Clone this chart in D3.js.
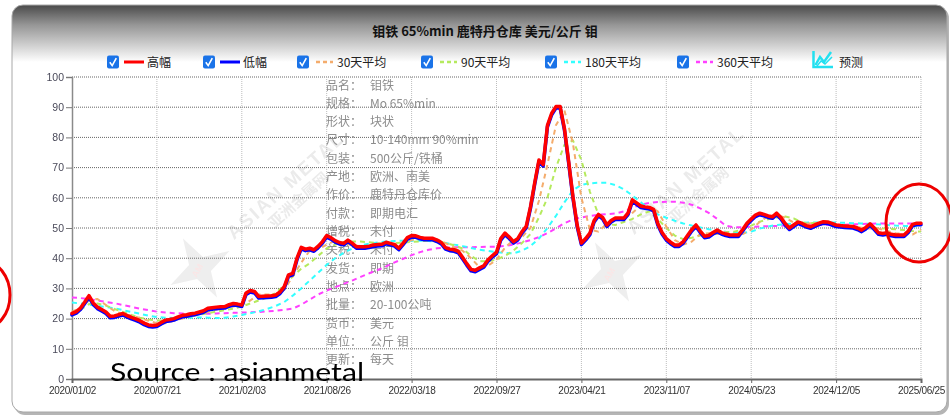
<!DOCTYPE html>
<html><head><meta charset="utf-8">
<script src="https://cdn.jsdelivr.net/npm/d3@7"></script>
<style>html,body{margin:0;padding:0;background:#fff;}svg{display:block;}</style>
</head><body>
<svg id="chart" width="950" height="417"></svg>
<script>
// ---- data ----
const titleText = "钼铁 65%min 鹿特丹仓库 美元/公斤 钼";
const tickLabels = ["2020/01/02","2020/07/21","2021/02/03","2021/08/26","2022/03/18","2022/09/27","2023/04/21","2023/11/07","2024/05/23","2024/12/05","2025/06/25"];
const yTicks = [0,10,20,30,40,50,60,70,80,90,100];
const legendNames = ["高幅","低幅","30天平均","90天平均","180天平均","360天平均"];
const forecastName = "预测";
const infoLabels = ["品名：","规格：","形状：","尺寸：","包装：","产地：","作价：","付款：","增税：","关税：","发货：","地点：","批量：","货币：","单位：","更新："];
const infoValues = ["钼铁","Mo 65%min","块状","10-140mm 90%min","500公斤/铁桶","欧洲、南美","鹿特丹仓库价","即期电汇","未付","未付","即期","欧洲","20-100公吨","美元","公斤 钼","每天"];
const sourceText = "Source : asianmetal";

// high (red) — evenly spaced samples across the whole period
const high = [
21.7,22.3,23.5,25.5,27.6,25.2,23.8,23.0,22.2,20.8,
20.9,21.3,21.7,21.0,20.4,19.9,19.3,18.5,17.9,17.7,
17.9,18.7,19.5,19.7,20.0,20.6,21.1,21.3,21.6,21.8,
22.2,22.6,23.4,23.6,23.8,23.9,24.0,24.6,25.0,24.8,
24.5,28.5,29.3,29.0,27.3,27.4,27.5,27.6,27.8,28.8,
30.6,34.5,35.0,40.0,43.6,43.0,43.3,42.8,44.0,45.5,
47.5,46.8,45.8,45.2,44.9,46.0,45.0,43.8,43.8,43.8,
44.0,44.4,44.5,44.6,45.3,44.9,44.5,43.3,45.0,46.8,
47.5,47.4,46.9,46.6,46.6,46.6,46.0,45.2,43.5,43.0,
42.8,42.3,40.3,38.2,36.3,36.0,36.8,37.5,39.5,40.8,
42.0,46.5,48.3,47.0,45.5,46.5,48.8,50.5,57.0,65.0,
72.5,71.0,84.0,88.0,90.2,90.2,83.0,72.0,60.5,51.0,
45.0,46.5,48.3,52.5,54.5,53.5,51.0,52.5,53.3,53.3,
53.3,55.0,59.3,58.3,57.3,57.0,56.8,56.2,51.5,48.5,
46.5,45.3,44.4,44.4,45.5,47.5,49.5,51.0,49.0,47.3,
47.5,48.5,49.3,48.5,48.0,47.7,47.7,47.7,49.5,51.6,
53.0,54.3,54.9,54.5,54.0,53.7,54.9,53.5,51.5,50.0,
51.0,52.0,51.5,50.8,50.4,51.0,51.6,52.1,52.0,51.5,
51.0,50.8,50.7,50.6,50.5,50.0,49.3,50.2,51.4,50.0,
48.4,48.2,48.4,47.9,47.7,47.7,47.7,49.0,51.2,51.6,
51.6];
// low (blue)
const low = [
21.2,21.8,23.0,25.0,27.0,24.7,23.3,22.5,21.7,20.3,
20.4,20.8,21.2,20.5,19.9,19.4,18.8,18.0,17.4,17.2,
17.4,18.2,19.0,19.2,19.5,20.1,20.6,20.8,21.1,21.3,
21.7,22.1,22.9,23.1,23.3,23.4,23.5,24.1,24.5,24.3,
24.0,28.0,28.8,28.5,26.8,26.9,27.0,27.1,27.3,28.3,
30.1,34.0,34.5,39.5,43.1,42.5,42.8,42.3,43.5,45.0,
47.0,46.3,45.3,44.7,44.4,45.5,44.5,43.3,43.3,43.3,
43.5,43.9,44.0,44.1,44.8,44.4,44.0,42.8,44.5,46.3,
47.0,46.9,46.4,46.1,46.1,46.1,45.5,44.7,43.0,42.5,
42.3,41.8,39.8,37.7,35.8,35.5,36.3,37.0,39.0,40.3,
41.5,46.0,47.8,46.5,45.0,46.0,48.3,50.0,56.5,64.5,
72.0,70.5,83.5,87.5,89.7,89.7,82.5,71.5,60.0,50.5,
44.5,46.0,47.8,52.0,54.0,53.0,50.5,52.0,52.8,52.8,
52.8,54.5,58.8,57.8,56.8,56.5,56.3,55.7,51.0,48.0,
46.0,44.8,43.9,43.9,45.0,47.0,49.0,50.5,48.5,46.8,
47.0,48.0,48.8,48.0,47.5,47.2,47.2,47.2,49.0,51.1,
52.5,53.8,54.4,54.0,53.5,53.2,54.4,53.0,51.0,49.5,
50.5,51.5,51.0,50.3,49.9,50.5,51.1,51.6,51.5,51.0,
50.5,50.3,50.2,50.1,50.0,49.5,48.8,49.7,50.9,49.5,
47.9,47.7,47.9,47.4,47.2,47.2,47.2,48.5,50.7,51.1,
51.1];
const ma30 = [
22.3,23.5,26.0,26.5,24.5,22.5,21.5,21.0,20.2,19.3,
18.5,18.5,19.3,20.0,20.8,21.5,22.2,23.0,23.5,24.0,
24.6,26.0,28.0,28.0,27.8,29.5,34.0,38.5,42.5,43.0,
44.5,45.8,45.0,44.3,44.0,43.8,44.0,44.6,44.8,44.8,
46.0,46.6,46.5,46.2,45.0,43.5,42.5,40.0,37.0,37.5,
39.5,43.5,46.0,47.0,50.0,59.0,71.0,84.0,89.0,78.0,
60.0,49.5,48.8,51.5,53.3,53.0,55.0,57.5,57.0,55.5,
50.5,46.0,44.5,45.5,48.0,48.3,48.0,48.5,48.0,48.0,
49.5,52.0,54.0,54.2,53.5,51.8,51.3,51.6,51.7,51.6,
50.8,50.5,50.4,50.1,49.8,49.8,49.0,48.3,48.0,47.8,49.5];
const ma90 = [
21.7,23.0,24.8,25.0,24.3,23.2,22.2,21.2,20.3,19.7,
19.4,19.4,19.8,20.3,20.8,21.3,21.8,22.3,22.8,23.3,
24.0,25.0,26.0,27.0,28.5,31.0,34.0,36.5,38.3,40.8,
43.2,44.5,45.3,45.5,45.5,45.3,44.9,44.8,45.0,45.2,
45.4,45.6,45.8,45.6,45.0,44.3,43.2,40.8,39.0,39.0,
39.5,40.8,42.5,45.0,48.0,53.5,60.0,70.0,77.5,79.0,
72.5,62.0,54.5,51.3,51.0,52.0,53.0,54.5,55.5,53.0,
50.0,47.5,46.3,46.8,47.5,48.0,48.3,48.6,48.8,49.5,
50.8,52.1,52.9,53.5,53.8,53.2,51.8,51.6,51.8,51.5,
51.0,50.6,50.3,50.1,50.0,49.9,49.8,49.6,49.3,49.0,48.8];
const ma180 = [
25.3,25.0,24.6,24.2,23.8,23.4,22.8,22.2,21.6,21.0,
20.5,20.3,20.2,20.2,20.3,20.4,20.3,20.2,20.3,20.7,
21.2,21.8,22.4,23.2,24.2,25.5,27.6,30.0,32.6,35.2,
37.8,40.0,41.8,43.2,44.2,44.8,45.2,45.5,45.7,45.8,
45.8,45.8,45.7,45.4,45.0,44.5,44.0,43.4,42.8,42.4,
42.0,41.7,41.6,42.5,44.0,46.5,50.0,54.0,58.5,62.5,
64.3,64.8,65.0,65.0,64.2,62.8,60.8,58.5,56.3,54.5,
53.4,52.4,51.5,50.8,50.2,49.6,49.2,48.8,48.5,48.3,
48.8,49.8,50.5,51.0,51.3,51.5,51.7,51.8,51.8,51.8,
51.8,51.7,51.6,51.5,51.4,51.2,51.0,50.8,50.7,50.6,50.5];
const ma360 = [
27.0,26.8,26.4,26.0,25.5,25.1,24.5,23.9,23.3,22.8,
22.3,22.0,21.8,21.7,21.6,21.6,21.6,21.7,21.8,21.9,
22.0,22.1,22.2,22.4,22.6,22.9,23.3,24.6,26.3,28.0,
29.3,30.4,31.5,32.6,33.8,35.0,36.1,37.3,38.6,39.8,
41.0,42.0,42.8,43.3,43.5,43.6,43.6,43.6,43.7,43.8,
43.8,44.1,44.5,45.2,46.0,47.0,48.3,49.9,51.6,52.8,
53.5,54.0,54.4,54.6,54.8,55.5,56.8,57.7,58.3,58.6,
58.7,58.7,58.4,57.7,56.5,55.0,53.0,50.8,50.2,50.3,
50.4,50.5,50.6,50.7,50.8,50.8,50.9,50.9,51.0,51.0,
51.0,51.1,51.2,51.3,51.4,51.5,51.5,51.5,51.5,51.5,51.5];

// ---- layout ----
const svg = d3.select("#chart");
const plot = {left: 72, right: 921, top: 77, bottom: 379};
const nTicks = tickLabels.length - 1;
const x = d3.scaleLinear().domain([0, nTicks]).range([plot.left, plot.right]);
const y = d3.scaleLinear().domain([0, 100]).range([plot.bottom, plot.top]);
const cjk = "'Noto Sans CJK SC','Noto Sans',sans-serif";
const latin = "'Liberation Sans',Arial,sans-serif";

const defs = svg.append("defs");
const grad = defs.append("linearGradient").attr("id","hdr").attr("gradientUnits","userSpaceOnUse")
  .attr("x1",0).attr("y1",5).attr("x2",0).attr("y2",62);
grad.append("stop").attr("offset","0").attr("stop-color","#4a4a4a");
grad.append("stop").attr("offset","0.35").attr("stop-color","#969696");
grad.append("stop").attr("offset","1").attr("stop-color","#ffffff");

// panel with shadow
svg.append("rect").attr("x",14).attr("y",7).attr("width",935).attr("height",408).attr("rx",11)
  .attr("fill","#b5b5b5");
svg.append("rect").attr("x",12).attr("y",5).attr("width",935).attr("height",407).attr("rx",11)
  .attr("fill","url(#hdr)").attr("stroke","#a8a8a8").attr("stroke-width",1);

// title
svg.append("text").attr("x",485).attr("y",36).attr("text-anchor","middle")
  .attr("font-family",cjk).attr("font-weight","bold").attr("font-size",13).attr("fill","#111")
  .text(titleText);

// legend
const legendColors = ["#ff0000","#0000ff","#f4ac6c","#b5ea5e","#33ffff","#ff40ff"];
const legendX = [107, 203, 297, 421, 545, 677];
const ly = 62;
legendNames.forEach((name,i)=>{
  const g = svg.append("g").attr("transform",`translate(${legendX[i]},${ly})`);
  g.append("rect").attr("x",0).attr("y",-6.5).attr("width",12).attr("height",13).attr("rx",2).attr("fill","#1a73e8");
  g.append("path").attr("d","M2.8,0.3 L5.2,3.6 L9.3,-3.8").attr("fill","none").attr("stroke","#fff").attr("stroke-width",1.6);
  const dashed = i >= 2;
  g.append("line").attr("x1",dashed?19:17).attr("x2",dashed?36:37).attr("y1",0).attr("y2",0)
    .attr("stroke",legendColors[i]).attr("stroke-width",dashed?2.5:3)
    .attr("stroke-dasharray",dashed?"4,3":null);
  g.append("text").attr("x",40).attr("y",4.5).attr("font-family",cjk).attr("font-size",12)
    .attr("fill","#222").text(name);
});
// forecast icon
const fg = svg.append("g").attr("transform","translate(812,50)");
fg.append("path").attr("d","M1.5,1 V17 H21").attr("fill","none").attr("stroke","#22e0f0").attr("stroke-width",2.5);
fg.append("path").attr("d","M3.5,15 L8,7 L12,12 L19,2").attr("fill","none").attr("stroke","#22e0f0").attr("stroke-width",2.5);
fg.append("path").attr("d","M5,16 L9,11 L13,14 L20,7").attr("fill","none").attr("stroke","#22e0f0").attr("stroke-width",1.5);
svg.append("text").attr("x",839).attr("y",66.5).attr("font-family",cjk).attr("font-size",12).attr("fill","#222").text(forecastName);

// watermarks
function watermark(cx, cy, sx, sy){
  const g = svg.append("g").attr("opacity",0.1);
  g.append("text").attr("transform",`translate(${cx},${cy}) rotate(-42)`).attr("text-anchor","middle")
    .attr("font-family",latin).attr("font-weight","bold").attr("font-size",19).attr("fill","#333").attr("letter-spacing",2)
    .text("ASIAN METAL");
  g.append("text").attr("transform",`translate(${cx+12},${cy+14}) rotate(-42)`).attr("text-anchor","middle")
    .attr("font-family",cjk).attr("font-weight","bold").attr("font-size",15).attr("fill","#333")
    .text("亚洲金属网");
  g.append("path").attr("transform",`translate(${sx},${sy}) rotate(-30)`)
    .attr("d","M0,-34 L8,-8 L34,0 L8,8 L0,34 L-8,8 L-34,0 L-8,-8 Z").attr("fill","#555");
  g.append("text").attr("transform",`translate(${sx},${sy+4}) rotate(-60)`).attr("text-anchor","middle")
    .attr("font-family",latin).attr("font-weight","bold").attr("font-size",9).attr("fill","#c00").text("AM");
}
watermark(290, 190, 200, 268);
watermark(690, 185, 612, 272);

// grid
const gGrid = svg.append("g");
yTicks.filter(v=>v>0).forEach(v=>{
  gGrid.append("line").attr("x1",plot.left).attr("x2",plot.right).attr("y1",y(v)).attr("y2",y(v))
    .attr("stroke","#666").attr("stroke-width",1).attr("stroke-dasharray","1,1");
});
tickLabels.forEach((t,i)=>{
  if(i===0) return;
  gGrid.append("line").attr("x1",x(i)).attr("x2",x(i)).attr("y1",plot.top).attr("y2",plot.bottom)
    .attr("stroke","#bdbdbd").attr("stroke-width",1).attr("stroke-dasharray","1,1");
});

// info text
const gInfo = svg.append("g").attr("font-family",cjk).attr("font-size",12).attr("fill","#8c8c8c");
infoLabels.forEach((lab,i)=>{
  const yy = 89.5 + i*18.33;
  gInfo.append("text").attr("x",326).attr("y",yy).text(lab);
  gInfo.append("text").attr("x",370).attr("y",yy).text(infoValues[i]);
});

// axes
const yAxis = d3.axisLeft(y).tickValues(yTicks).tickSize(6).tickPadding(2);
const gy = svg.append("g").attr("transform",`translate(${plot.left},0)`).call(yAxis);
gy.select(".domain").attr("stroke","#8a8a8a").attr("stroke-width",1.5);
gy.selectAll(".tick line").attr("stroke","#777");
gy.selectAll(".tick text").attr("font-family",latin).attr("font-size",10.5).attr("fill","#4a4a5a");

const xAxis = d3.axisBottom(x).tickValues(d3.range(0, nTicks+1)).tickFormat(i=>tickLabels[i]).tickSize(4).tickPadding(4);
const gx = svg.append("g").attr("transform",`translate(0,${plot.bottom})`).call(xAxis);
gx.select(".domain").attr("stroke","#666").attr("stroke-width",2);
gx.selectAll(".tick line").attr("stroke","#666");
gx.selectAll(".tick text").attr("font-family",latin).attr("font-size",10).attr("fill","#333").attr("letter-spacing",-0.3);

// series
function seriesLine(arr){
  const n = arr.length - 1;
  return d3.line().x((d,i)=>x(i/n*nTicks)).y(d=>y(d))(arr);
}
const gLines = svg.append("g").attr("fill","none").attr("stroke-linejoin","round").attr("stroke-linecap","round");
[[ma360,"#ff40ff"],[ma180,"#33ffff"],[ma90,"#b5ea5e"],[ma30,"#f4ac6c"]].forEach(([arr,c])=>{
  gLines.append("path").attr("d",seriesLine(arr)).attr("stroke",c).attr("stroke-width",2)
    .attr("stroke-dasharray","5,4").attr("stroke-linecap","butt");
});
gLines.append("path").attr("d",seriesLine(low)).attr("stroke","#0000ff").attr("stroke-width",3.5);
gLines.append("path").attr("d",seriesLine(high)).attr("stroke","#ff0000").attr("stroke-width",3.5);

// source
svg.append("text").attr("x",110).attr("y",380.5).attr("font-family","Lato,'Open Sans',sans-serif")
  .attr("font-size",25).attr("fill","#000").attr("textLength",254).attr("lengthAdjust","spacingAndGlyphs")
  .text(sourceText);

// red annotation circles
svg.append("ellipse").attr("cx",-17).attr("cy",295).attr("rx",27).attr("ry",34)
  .attr("fill","none").attr("stroke","#ee0000").attr("stroke-width",3);
svg.append("ellipse").attr("cx",919).attr("cy",223).attr("rx",33).attr("ry",39)
  .attr("fill","none").attr("stroke","#ee0000").attr("stroke-width",3);
</script>
</body></html>
